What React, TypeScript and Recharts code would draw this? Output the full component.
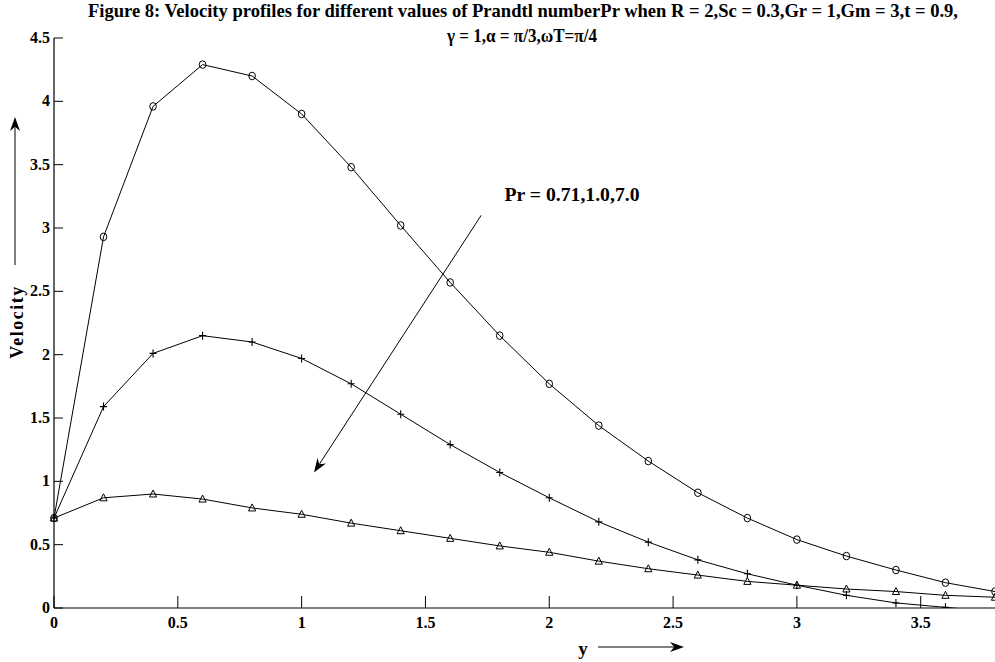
import { LineChart, Line, XAxis, YAxis, ReferenceLine } from "recharts";

// distance y along the plate
const yPositions = [0, 0.2, 0.4, 0.6, 0.8, 1.0, 1.2, 1.4, 1.6, 1.8, 2.0, 2.2, 2.4, 2.6, 2.8, 3.0, 3.2, 3.4, 3.6, 3.8];

// velocity for Pr = 0.71 (circles)
const velPr071 = [0.71, 2.93, 3.96, 4.29, 4.2, 3.9, 3.48, 3.02, 2.57, 2.15, 1.77, 1.44, 1.16, 0.91, 0.71, 0.54, 0.41, 0.3, 0.2, 0.13];
// velocity for Pr = 1.0 (plus)
const velPr10 = [0.71, 1.59, 2.01, 2.15, 2.1, 1.97, 1.77, 1.53, 1.29, 1.07, 0.87, 0.68, 0.52, 0.38, 0.27, 0.18, 0.1, 0.04, 0.005, -0.03];
// velocity for Pr = 7.0 (triangles)
const velPr70 = [0.71, 0.87, 0.9, 0.86, 0.79, 0.74, 0.67, 0.61, 0.55, 0.49, 0.44, 0.37, 0.31, 0.26, 0.21, 0.18, 0.15, 0.13, 0.1, 0.085];

const xTicks = [0, 0.5, 1, 1.5, 2, 2.5, 3, 3.5];
const yTicks = [0, 0.5, 1, 1.5, 2, 2.5, 3, 3.5, 4, 4.5];

// direction of increasing Pr
const prArrowFrom = { y: 1.725, v: 3.1 };
const prArrowTo = { y: 1.05, v: 1.07 };

const W = 995;
const H = 662;
const FONT = '"Liberation Serif", "Times New Roman", serif';
const INK = "#000";

const data = yPositions.map((y, i) => ({
  y,
  pr071: velPr071[i],
  pr10: velPr10[i],
  pr70: velPr70[i],
}));

/* ---- markers ---- */

function CircleDot(props: any) {
  const { cx, cy } = props;
  if (cx == null || cy == null) return null;
  return <ellipse cx={cx} cy={cy} rx={3.3} ry={3.8} fill="none" stroke={INK} strokeWidth={1} />;
}

function PlusDot(props: any) {
  const { cx, cy } = props;
  if (cx == null || cy == null) return null;
  return (
    <path
      d={`M${cx - 3.5},${cy}H${cx + 3.5}M${cx},${cy - 4}V${cy + 4}`}
      stroke={INK}
      strokeWidth={1.1}
      fill="none"
    />
  );
}

function TriangleDot(props: any) {
  const { cx, cy } = props;
  if (cx == null || cy == null) return null;
  return (
    <path
      d={`M${cx},${cy - 4}L${cx + 3.6},${cy + 3}L${cx - 3.6},${cy + 3}Z`}
      stroke={INK}
      strokeWidth={1}
      fill="none"
    />
  );
}

/* ---- axis ticks (drawn pointing into the plot) ---- */

function XTick(props: any) {
  const { x, y, payload } = props;
  return (
    <g>
      <line x1={x} y1={y} x2={x} y2={y - 12} stroke={INK} strokeWidth={1} />
      <text x={x} y={y + 20} textAnchor="middle" fontFamily={FONT} fontWeight="bold" fontSize={16} fill={INK}>
        {payload.value}
      </text>
    </g>
  );
}

function YTick(props: any) {
  const { x, y, payload } = props;
  return (
    <g>
      <line x1={x} y1={y} x2={x + 9} y2={y} stroke={INK} strokeWidth={1} />
      <text x={x - 4} y={y + 5} textAnchor="end" fontFamily={FONT} fontWeight="bold" fontSize={16} fill={INK}>
        {payload.value}
      </text>
    </g>
  );
}

function ArrowShape(props: any) {
  const { x1, y1, x2, y2 } = props;
  const ang = Math.atan2(y2 - y1, x2 - x1);
  const len = 14;
  const half = 5;
  const bx = x2 - len * Math.cos(ang);
  const by = y2 - len * Math.sin(ang);
  const nx = -Math.sin(ang);
  const ny = Math.cos(ang);
  const notchX = x2 - len * 0.7 * Math.cos(ang);
  const notchY = y2 - len * 0.7 * Math.sin(ang);
  return (
    <g>
      <line x1={x1} y1={y1} x2={notchX} y2={notchY} stroke={INK} strokeWidth={1} />
      <path
        d={`M${x2},${y2}L${bx + nx * half},${by + ny * half}L${notchX},${notchY}L${bx - nx * half},${by - ny * half}Z`}
        fill={INK}
      />
    </g>
  );
}

export default function App() {
  return (
    <div style={{ position: "absolute", left: 0, top: 0, width: W, height: H, background: "#fff" }}>
      <LineChart width={W} height={H} data={data} margin={{ top: 38, right: 0, bottom: 0, left: 0 }}>
        <XAxis
          dataKey="y"
          type="number"
          domain={[0, 3.8]}
          ticks={xTicks}
          height={54}
          tickSize={0}
          tickMargin={0}
          tickLine={false}
          axisLine={{ stroke: INK, strokeWidth: 1.2 }}
          tick={<XTick />}
          interval={0}
        />
        <YAxis
          type="number"
          domain={[0, 4.5]}
          ticks={yTicks}
          width={54}
          allowDataOverflow
          tickSize={0}
          tickMargin={0}
          tickLine={false}
          axisLine={{ stroke: INK, strokeWidth: 1.2 }}
          tick={<YTick />}
          interval={0}
        />
        <ReferenceLine
          segment={[
            { x: prArrowFrom.y, y: prArrowFrom.v },
            { x: prArrowTo.y, y: prArrowTo.v },
          ]}
          shape={(p: any) => <ArrowShape {...p} />}
          ifOverflow="visible"
        />
        <Line dataKey="pr071" stroke={INK} strokeWidth={1} dot={(p: any) => <CircleDot key={p.index} {...p} />} isAnimationActive={false} />
        <Line dataKey="pr10" stroke={INK} strokeWidth={1} dot={(p: any) => <PlusDot key={p.index} {...p} />} isAnimationActive={false} />
        <Line dataKey="pr70" stroke={INK} strokeWidth={1} dot={(p: any) => <TriangleDot key={p.index} {...p} />} isAnimationActive={false} />
      </LineChart>

      {/* titles, axis captions and their arrows */}
      <svg width={W} height={H} style={{ position: "absolute", left: 0, top: 0, pointerEvents: "none" }}>
        <g fontFamily={FONT} fontWeight="bold" fill={INK}>
          <text x={523} y={17} textAnchor="middle" fontSize={19} textLength={870} lengthAdjust="spacingAndGlyphs">
            Figure 8: Velocity profiles for different values of Prandtl numberPr when R = 2,Sc = 0.3,Gr = 1,Gm = 3,t = 0.9,
          </text>
          <text x={522} y={42} textAnchor="middle" fontSize={19} textLength={150} lengthAdjust="spacingAndGlyphs">
            γ = 1,α = π/3,ωT=π/4
          </text>
          <text x={572} y={201} textAnchor="middle" fontSize={19} textLength={135} lengthAdjust="spacingAndGlyphs">
            Pr = 0.71,1.0,7.0
          </text>
          <text x={23} y={322} textAnchor="middle" fontSize={18} letterSpacing={1.5} transform="rotate(-90 23 322)">
            Velocity
          </text>
          <text x={583} y={655} textAnchor="middle" fontSize={19}>
            y
          </text>
        </g>
        <ArrowShape x1={15} y1={265} x2={15} y2={117} />
        <ArrowShape x1={598} y1={647} x2={684} y2={647} />
      </svg>
    </div>
  );
}
